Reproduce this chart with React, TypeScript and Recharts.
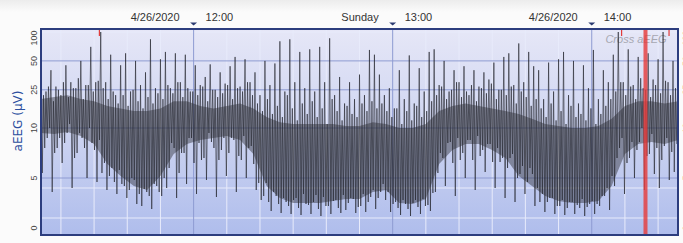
import React from 'react';
import { ComposedChart, Line, Area, XAxis, YAxis, CartesianGrid, ReferenceLine } from 'recharts';

// time axis in minutes since midnight (11:14 .. 14:26)
const startMin = 674;
const endMin = 866;
const traceStep = 1.5;
const coreStep = 4;

// main upper peaks of the trace, µV, one per 1.5 min
const traceHigh = [
  34, 24, 40, 27, 22, 45, 30, 26, 50, 28, 70, 30,
  100, 30, 58, 22, 45, 60, 24, 50, 28, 38, 84, 26, 52,
  62, 26, 60, 30, 58, 24, 45, 28, 34, 46, 25, 38, 29, 44, 55, 27, 52, 30,
  38, 22, 50, 28, 47, 80, 24, 84, 30, 62, 26, 66, 24, 70, 30, 86, 22, 34, 18, 30, 20, 36, 22, 65, 58,
  36, 22,
  26, 16, 40, 20, 57, 18, 42, 24, 62,
  66, 28, 50, 24, 40, 30, 44, 22, 40, 27, 38, 32, 48, 25, 55, 60, 28, 76, 30, 62, 44,
  40, 20, 48, 24, 52, 62, 22, 50, 18, 45, 26, 65, 20, 40, 30,
  58, 100, 30, 66, 28, 55, 26, 60, 32, 52, 100, 30, 50,
];

// main lower troughs of the trace, µV
const traceLow = [
  5.5, 9, 3.6, 8, 6.5, 9.5, 4.0, 7.5, 9, 5.0, 8.5, 4.6,
  5.5, 3.8, 6, 3.4, 4.4, 3.0, 5, 2.4, 2.2, 3.6, 1.9, 4.2, 3.2,
  4.0, 8.5, 3.0, 7.5, 4.4, 9, 3.4, 6.8, 4.8, 8.6, 3.1, 7.8, 5.2, 9, 3.6, 6.8, 5.0, 8.2,
  3.8, 2.8, 4.5, 1.7, 3.2, 1.5, 2.6, 1.4, 3.0, 1.3, 2.4, 1.4, 3.3, 1.2, 2.2, 1.4, 2.8, 1.5, 1.8, 3.0, 1.5, 2.2, 1.6, 3.1, 1.9,
  3.6, 2.8,
  1.6, 2.6, 1.3, 2.4, 1.2, 2.8, 1.4, 2.2, 1.7,
  3.6, 7.5, 4.2, 8.6, 3.2, 6.8, 5.0, 8.8, 3.8, 7.2, 5.6, 8.4, 4.0, 6.6, 3.0, 7.0, 2.6, 5.4, 3.4, 6.0, 2.2,
  2.6, 1.6, 3.0, 1.4, 2.2, 1.3, 2.6, 1.4, 2.0, 1.2, 2.4, 1.4, 2.2, 3.2, 1.8,
  4.2, 8.0, 3.4, 7.0, 5.0, 8.6, 3.8, 7.4, 5.4, 4.0, 8.2, 4.8, 5.6,
];

// smaller in-between peaks, µV
const traceHigh2 = [
  22, 27, 19, 25, 30, 21, 26, 33, 20, 28, 24, 31,
  26, 20, 24, 18, 22, 17, 25, 19, 16, 21, 18, 23, 20,
  28, 23, 30, 21, 26, 24, 22, 27, 19, 25, 21, 23, 28, 20, 26, 24, 30, 22,
  18, 15, 20, 14, 17, 13, 22, 16, 12, 18, 14, 19, 13, 16, 11, 20, 15, 12, 17, 14, 13, 18, 15, 19, 16,
  18, 15,
  13, 16, 11, 15, 12, 17, 13, 15, 19,
  22, 27, 20, 25, 30, 21, 24, 28, 19, 26, 23, 29, 20, 25, 22, 27, 18, 24, 21, 17, 20,
  16, 13, 18, 12, 15, 11, 17, 13, 14, 12, 16, 11, 14, 17, 20,
  24, 30, 22, 27, 20, 33, 25, 21, 28, 23, 31, 22, 26,
];

// smaller in-between troughs, µV
const traceLow2 = [
  8, 10, 7.5, 9, 8.5, 11, 7, 9.5, 8, 10, 7.8, 8.8,
  6.5, 5.2, 4.6, 5.8, 4.2, 3.8, 4.8, 3.4, 3.9, 3.2, 4.4, 3.6, 5.0,
  6, 8, 5.5, 7.5, 9, 6.5, 8.5, 7, 9.5, 8, 6.8, 9, 7.5, 8.8, 7.2, 9.2, 8, 6.4,
  4.5, 3.2, 2.6, 3.6, 2.4, 3.0, 2.2, 2.8, 2.0, 3.4, 2.3, 2.6, 1.9, 3.1, 2.2, 2.7, 2.0, 3.3, 2.5, 2.9, 2.1, 3.4, 2.6, 3.8, 3.0,
  4.4, 3.6,
  2.4, 2.0, 2.8, 1.9, 2.5, 2.1, 2.9, 2.3, 3.5,
  5.5, 7, 8.5, 6.5, 9, 7.5, 8.8, 6.8, 9.2, 7.8, 8.4, 6.6, 8, 7, 6, 7.4, 5, 6.2, 4.6, 5.4, 4.0,
  3.4, 2.6, 3.0, 2.2, 2.8, 2.0, 2.6, 2.3, 2.9, 2.1, 2.7, 2.4, 3.2, 4.0, 5.2,
  7, 9, 6.5, 8.6, 7.8, 10, 7.2, 9.4, 8, 6.8, 9, 7.6, 8.4,
];

// densest dark band of the trace, µV, one per 4 min
const coreHigh = [
  20, 21, 22, 20, 19, 17, 16, 15, 15, 16,
  19, 19, 17, 16, 17, 18, 16, 13, 11.5, 11,
  11, 11, 11, 10.5, 10.5, 11.5, 11, 10, 10, 11,
  15, 17, 18, 17, 16, 15, 14, 12.5, 11, 10.5,
  10, 10, 10.5, 12.5, 17, 19, 19, 18, 19,
];
const coreLow = [
  9.5, 9.4, 9.6, 9.2, 8.4, 6.4, 5.2, 4.2, 3.8, 5.2,
  7.4, 8.4, 8.8, 9, 9.2, 8.8, 7.4, 4.2, 3.0, 2.5,
  2.5, 2.5, 2.7, 2.9, 2.9, 3.6, 3.8, 2.5, 2.4, 2.9,
  6.4, 7.8, 8.4, 8.4, 7.8, 7.0, 5.2, 4.2, 3.2, 2.7,
  2.5, 2.5, 2.7, 4.2, 7.4, 8.4, 8.6, 8.4, 8.8,
];

const yTicks = [0, 5, 10, 25, 50, 100];
const minorLevels = [0, 1, 2, 3, 4, 100];
const majorLevels = [5, 10, 25, 50];
const hourTicks = [720, 780, 840];
const hourDays = ['4/26/2020', 'Sunday', '4/26/2020'];
const hourLabels = ['12:00', '13:00', '14:00'];
const tenMinLines = [680, 690, 700, 710, 730, 740, 750, 760, 770, 790, 800, 810, 820, 830, 850, 860];
const eventMarks = [691.6, 849, 863.3];
const cursorTime = 856.2;

// aEEG scale: linear 0-10 µV, log 10-100 µV
const aeeg = (v: number) => (v <= 10 ? v / 10 : 1 + 0.96 * Math.log10(v / 10));

const rowMap = new Map<string, any>();
const put = (t: number, fields: any) => {
  const key = t.toFixed(3);
  rowMap.set(key, { ...(rowMap.get(key) || { t }), ...fields });
};
const q = traceStep / 4;
traceHigh.forEach((v, i) => put(startMin + i * traceStep, { trace: aeeg(v) }));
traceLow.forEach((v, i) => put(startMin + i * traceStep + q, { trace: aeeg(v) }));
traceHigh2.forEach((v, i) => put(startMin + i * traceStep + 2 * q, { trace: aeeg(v) }));
traceLow2.forEach((v, i) => put(startMin + i * traceStep + 3 * q, { trace: aeeg(v) }));
coreHigh.forEach((v, k) => put(startMin + k * coreStep, { core: [aeeg(coreLow[k]), aeeg(v)] }));
const data = Array.from(rowMap.values()).sort((a, b) => a.t - b.t);

const yTickPos = yTicks.map(aeeg);
const font = '"Liberation Sans", Arial, sans-serif';

const YTick = (props: any) => {
  const { y, payload } = props;
  const label = yTicks[yTickPos.indexOf(payload.value)];
  const cy = label === 100 ? y + 6 : y;
  return (
    <g fontFamily={font} fontSize={9} fill="#444">
      <text transform={`translate(33.5,${cy}) rotate(-90)`} textAnchor="middle" dy="0.35em">{label}</text>
      <text transform={`translate(685.5,${cy}) rotate(-90)`} textAnchor="middle" dy="0.35em">{label}</text>
    </g>
  );
};

const HourTick = (props: any) => {
  const { x, payload } = props;
  const i = hourTicks.indexOf(payload.value);
  return (
    <g fontFamily={font} fontSize={11} fill="#333">
      <text x={x - 14} y={21} textAnchor="end">{hourDays[i]}</text>
      <path d={`M${x - 3.5},22.5 L${x + 3.5},22.5 L${x},25.5 Z`} fill="#2b3a70" />
      <text x={x + 12} y={21} textAnchor="start">{hourLabels[i]}</text>
    </g>
  );
};

export default function App() {
  return (
    <div style={{ position: 'fixed', left: 0, top: 0, width: 683, height: 243, background: '#fbfbfb' }}>
      <div style={{ position: 'absolute', left: 0, top: 0, width: 683, height: 28, background: 'linear-gradient(#ececec, #fbfbfb 12px)' }} />
      <div style={{ position: 'absolute', left: 0, top: 0 }}>
        <ComposedChart width={683} height={243} data={data} margin={{ top: 0, right: 5, bottom: 8, left: 0 }}>
          <defs>
            <linearGradient id="plotBg" x1="0" y1="0" x2="0" y2="1">
              <stop offset="0%" stopColor="#e6e7f7" />
              <stop offset="50%" stopColor="#cdd4f1" />
              <stop offset="100%" stopColor="#afbdec" />
            </linearGradient>
          </defs>
          <CartesianGrid
            fill="url(#plotBg)"
            stroke="#e8ebfb"
            horizontalValues={minorLevels.map(aeeg)}
            verticalValues={tenMinLines}
          />
          <CartesianGrid
            stroke="#8e9bd2"
            horizontalValues={majorLevels.map(aeeg)}
            verticalValues={hourTicks}
          />
          <XAxis
            dataKey="t"
            type="number"
            orientation="top"
            domain={[startMin, endMin]}
            ticks={hourTicks}
            tick={<HourTick />}
            height={29}
            axisLine={false}
            tickLine={false}
            allowDataOverflow
          />
          <YAxis
            type="number"
            domain={[-0.07, 1.99]}
            ticks={yTickPos}
            tick={<YTick />}
            width={41}
            axisLine={false}
            tickLine={false}
            allowDataOverflow
          />
          <Area
            dataKey="core"
            type="linear"
            stroke="none"
            fill="#18181f"
            fillOpacity={0.4}
            connectNulls
            isAnimationActive={false}
          />
          <Line
            dataKey="trace"
            type="linear"
            stroke="#25272e"
            strokeWidth={0.8}
            strokeOpacity={0.78}
            dot={false}
            connectNulls
            isAnimationActive={false}
          />
          {eventMarks.map((m) => (
            <ReferenceLine
              key={m}
              segment={[{ x: m, y: 1.99 }, { x: m, y: 1.92 }]}
              stroke="#e23b3b"
              strokeWidth={1.2}
            />
          ))}
          <ReferenceLine x={cursorTime} stroke="#e53d3d" strokeWidth={4} strokeOpacity={0.82} />
          <text x={636} y={43} textAnchor="middle" fontFamily={font} fontStyle="italic" fontSize={11} fill="#a7a8b2">
            Cross aEEG
          </text>
          <text transform="translate(18,121) rotate(-90)" textAnchor="middle" dy="0.35em" fontFamily='"DejaVu Sans", Verdana, sans-serif' fontSize={12} fill="#2b4f9e">
            aEEG (µV)
          </text>
        </ComposedChart>
      </div>
      <div style={{ position: 'absolute', left: 40, top: 28, width: 639, height: 208, border: '2px solid #2c3d7e', boxSizing: 'border-box', pointerEvents: 'none' }} />
    </div>
  );
}
